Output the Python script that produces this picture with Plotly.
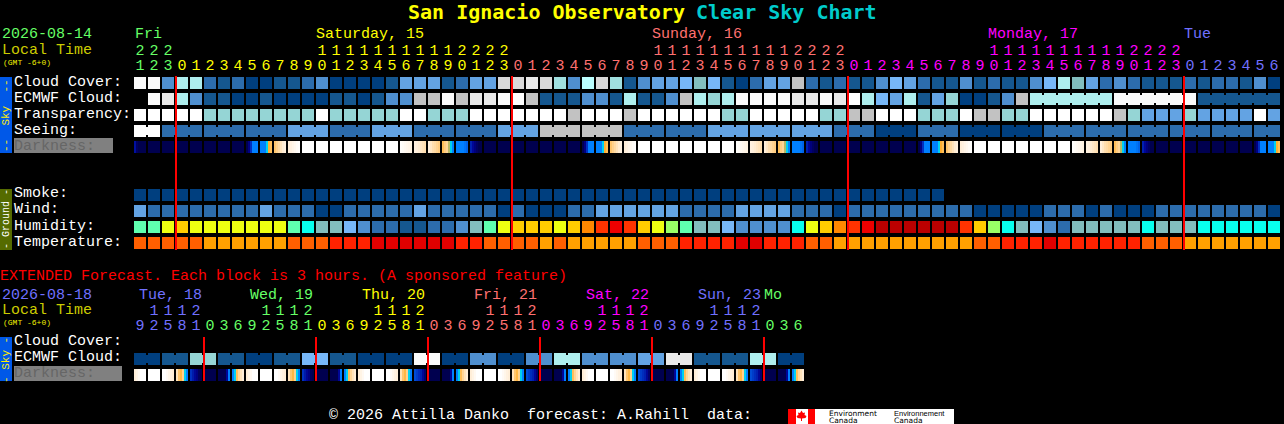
import plotly.graph_objects as go

W, H = 1284, 424
MONO = "Liberation Mono"
TITLE_FONT = "DejaVu Sans Mono"

# ---------- palette of block colours (index = level) ----------
palette = ["#003f7f", "#15578f", "#2c6cac", "#4f8fcf", "#63a3e3", "#77b7f7", "#82bebe", "#95d5d5",
           "#aeeeee", "#c2c2c2", "#e9e9e9", "#fafafa", "#ffffff", "#08ffee", "#5fffaf", "#99ff66",
           "#eeff11", "#ffcc00", "#ff8800", "#ff3300", "#ee0000", "#bb0000", "#ff5f00", "#ffa000",
           "#ff2200", "#e00000", "#d9d9d9", "#bbffff", "#a0e0e0"]

# ---------- main forecast, one block per hour ----------
hours = [21, 22, 23, 0, 1, 2, 3, 4, 5, 6, 7, 8, 9, 10, 11, 12, 13, 14, 15, 16, 17, 18, 19, 20, 21, 22, 23,
         0, 1, 2, 3, 4, 5, 6, 7, 8, 9, 10, 11, 12, 13, 14, 15, 16, 17, 18, 19, 20, 21, 22, 23,
         0, 1, 2, 3, 4, 5, 6, 7, 8, 9, 10, 11, 12, 13, 14, 15, 16, 17, 18, 19, 20, 21, 22, 23,
         0, 1, 2, 3, 4, 5, 6]
cloud = [11, 11, 3, 8, 8, 2, 1, 2, 0, 0, 1, 1, 2, 3, 0, 0, 0, 0, 1, 4, 4, 4, 1, 2, 4, 4, 26, 26, 10, 26, 28,
         3, 27, 26, 28, 1, 3, 4, 4, 5, 6, 5, 1, 0, 2, 4, 4, 9, 2, 1, 2, 1, 1, 3, 5, 4, 2, 1, 1, 3, 1, 2,
         1, 1, 3, 5, 8, 6, 4, 2, 3, 2, 1, 1, 1, 2, 1, 2, 2, 1, 3, 0]
ecmwf = [None, 11, 10, 8, 3, 1, 1, 0, 0, 1, 0, 0, 0, 0, 1, 1, 0, 1, 3, 3, 9, 9, 11, 9, 10, 10, 11, 12, 9, 1,
         1, 1, 3, 3, 1, 8, 1, 1, 3, 9, 8, 7, 8, 11, 11, 11, 11, 10, 10, 11, 10, 12, 8, 5, 4, 8, 1, 4, 7, 0, 0, 1, 3, 9,
         8, 8, 8, 8, 8, 8, 11, 11, 11, 11, 11, 11, 1, 1, 1, 1, 1, 1]
transparency = [12, 12, 12, 12, 12, 7, 7, 7, 7, 7, 7, 7, 7, 12, 7, 7, 7, 7, 7, 12, 12, 7, 7, 7, 12, 12, 12, 12,
                12, 12, 12, 9, 12, 12, 12, 9, 12, 12, 12, 12, 12, 12, 7, 7, 12, 12, 12, 12, 12, 7, 7, 9, 9,
                12, 12, 12, 7, 7, 7, 12, 9, 9, 7, 7, 12, 12, 12, 12, 12, 12, 9, 7, 4, 4, 4, 7, 4, 4, 4, 4, 12, 4]
seeing_by_group = [12, 2, 2, 2, 4, 2, 4, 2, 2, 4, 9, 9, 2, 2, 4, 4, 4, 2, 0, 2, 0, 0, 2, 2, 2, 2, 2, 2]
seeing_group_sizes = [2, 3, 3, 3, 3, 3, 3, 3, 3, 3, 3, 3, 3, 3, 3, 3, 3, 3, 3, 3, 3, 3, 3, 3, 3, 3, 3, 2]
ecmwf_joined_runs = [(64, 69), (70, 75), (76, 81)]
smoke = [0] * 58
wind = [4, 2, 2, 2, 2, 2, 2, 2, 2, 4, 2, 2, 2, 0, 0, 2, 2, 2, 2, 2, 4, 2, 2, 2, 2, 2, 0, 2, 0, 0, 0, 2, 2, 4, 4, 4,
        4, 4, 4, 2, 2, 2, 2, 4, 4, 4, 4, 2, 2, 2, 0, 2, 2, 2, 2, 2, 2, 2, 2, 2, 0, 0, 0, 0, 0, 2, 2, 2, 0, 2,
        0, 0, 0, 2, 2, 2, 2, 2, 2, 2, 2, 0]
humidity = [14, 14, 16, 17, 16, 16, 16, 16, 16, 16, 16, 14, 13, 6, 6, 5, 3, 2, 2, 1, 1, 2, 2, 3, 6, 14, 16, 17, 17,
            17, 16, 17, 18, 19, 20, 19, 17, 16, 15, 14, 6, 6, 5, 3, 3, 3, 3, 13, 16, 17, 18, 19, 20, 21, 21, 21,
            21, 21, 21, 19, 17, 15, 13, 6, 5, 3, 2, 6, 6, 6, 6, 6, 13, 6, 6, 6, 13, 13, 13, 13, 13, 13]
temperature = [22, 22, 22, 22, 22, 23, 23, 23, 23, 23, 23, 22, 22, 22, 24, 24, 24, 25, 25, 25, 25, 25, 25, 24, 24,
               22, 22, 22, 22, 23, 22, 23, 23, 23, 23, 23, 22, 22, 22, 24, 24, 24, 24, 25, 25, 24, 24, 24, 22, 22,
               23, 23, 23, 23, 23, 23, 23, 23, 23, 23, 22, 22, 24, 24, 24, 25, 24, 24, 24, 24, 24, 24, 22, 22, 22,
               23, 23, 23, 23, 23, 23, 23]

# darkness: one phase letter per block, each phase a 6-step brightness ramp inside the block
darkness_phases = {
    "N": [0, 0, 0, 0, 0, 0], "W": [1, 1, 1, 1, 1, 1],
    "a": [.15, .03, 0, 0, 0, 0], "b": [0, .08, .25, .45, .45, .45], "c": [.45, .45, .45, .55, .62, .66],
    "d": [.68, .72, .76, .8, .84, .87], "e": [.85, .88, .91, .94, .97, .99], "f": [.99, .97, .95, .93, .91, .89],
    "g": [.88, .86, .84, .82, .8, .78], "h": [.86, .82, .78, .76, .73, .7], "i": [.66, .7, .74, .6, .55, .45],
    "j": [.45, .45, .45, .45, .42, .38], "k": [.2, .12, .07, .03, 0, 0],
    "A": [.85, .9, .95, 1, 1, 1], "B": [1, 1, .96, .92, .88, .85], "C": [.8, .68, .64, .72, .55, .45],
    "D": [.25, .18, .12, .08, .02, 0], "G": [.32, .28, .24, .2, .12, .05], "E": [0, 0, 0, 0, .12, .45],
    "F": [.45, .55, .66, .74, .8, .85],
}
darkness_main = "aNNNNNNNbcdeWWWWWWWfghijkNNNNNNNbcdeWWWWWWWfghijkNNNNNNNbcdeWWWWWWWfghijkNNNNNNNbc"
darkness_stops = [0, .1, .25, .45, .55, .62, .7, .85, 1]
darkness_colors = ["#00004f", "#00008f", "#0030c0", "#0080ff", "#00d0f0", "#ffb030", "#ffcc80", "#ffeed8", "#ffffff"]

# main header
day_spans = [(3, "#66ff66"), (24, "#ffff00"), (24, "#ff7070"), (24, "#ff00ff"), (7, "#7070ff")]
day_labels = [("Fri", 135, "#66ff66"), ("Saturday, 15", 316, "#ffff00"), ("Sunday, 16", 652, "#ff7070"),
              ("Monday, 17", 988, "#ff00ff"), ("Tue", 1184, "#7070ff")]
sky_labels = [("Cloud Cover:", 82), ("ECMWF Cloud:", 98), ("Transparency:", 114), ("Seeing:", 130)]
ground_labels = [("Smoke:", 193), ("Wind:", 209), ("Humidity:", 226), ("Temperature:", 242)]

# ---------- extended forecast, one block per 3 hours ----------
ext_hours = [9, 12, 15, 18, 21, 0, 3, 6, 9, 12, 15, 18, 21, 0, 3, 6, 9, 12, 15, 18, 21, 0, 3, 6,
             9, 12, 15, 18, 21, 0, 3, 6, 9, 12, 15, 18, 21, 0, 3, 6, 9, 12, 15, 18, 21, 0, 3, 6]
ext_day_spans = [(5, "#7070ff"), (8, "#66ff66"), (8, "#ffff00"), (8, "#ff7070"), (8, "#ff00ff"), (8, "#7070ff"), (3, "#66ff66")]
ext_day_labels = [("Tue, 18", 139, "#7070ff"), ("Wed, 19", 250, "#66ff66"), ("Thu, 20", 362, "#ffff00"),
                  ("Fri, 21", 474, "#ff7070"), ("Sat, 22", 586, "#ff00ff"), ("Sun, 23", 698, "#7070ff"),
                  ("Mo", 764, "#66ff66")]
ext_ecmwf_by_pair = [0, 1, 7, 1, 0, 1, 5, 1, 0, 0, 11, 0, 3, 0, 3, 8, 3, 3, 4, 10, 1, 1, 8, 0]
ext_darkness = "AWBCDNEFAWBCDNEFAWBCGNEFAWBCGNEFAWBCGNEFAWBCGNEF"


# ---------- pixel <-> axis helpers: x axis is block index, y axis is row index ----------
def row(px):
    return (px - 83) / 16


def expand(spans):
    return [c for n, c in spans for _ in range(n)]


def steps(levels):
    n = len(levels)
    return [v for i, c in enumerate(levels) for v in ([i / n, c], [(i + 1) / n, c])]


fig = go.Figure()
common = dict(hoverinfo="skip", showscale=False)
discrete = dict(colorscale=steps(palette), zmin=-0.5, zmax=len(palette) - 0.5)
smooth_dark = dict(colorscale=[[s, c] for s, c in zip(darkness_stops, darkness_colors)], zmin=0, zmax=1)

n_cols = len(hours)
seeing = [v for v, n in zip(seeing_by_group, seeing_group_sizes) for _ in range(n)]
pad = lambda a: a + [None] * (n_cols - len(a))
grid = [cloud, ecmwf, transparency, seeing, [None] * n_cols, [None] * n_cols, [None] * n_cols,
        pad(smoke), wind, humidity, temperature]
fig.add_trace(go.Heatmap(x=list(range(n_cols)), y=list(range(len(grid))), z=grid, xgap=2, ygap=4, **discrete, **common))

ext_ecmwf = [v for v in ext_ecmwf_by_pair for _ in range(2)]
fig.add_trace(go.Heatmap(x=list(range(len(ext_ecmwf))), y=[row(359)], z=[ext_ecmwf], dy=1, xgap=2, ygap=4, **discrete, **common))


def darkness_trace(codes, px):
    z, edges = [], []
    for i, code in enumerate(codes):
        z += darkness_phases[code] + [None]
        edges += [i - 3 / 7 + k / 7 for k in range(7)]
    edges.append(len(codes) - 3 / 7)
    fig.add_trace(go.Heatmap(x=edges, y=[row(px) - 0.375, row(px) + 0.375], z=[z], **smooth_dark, **common))


darkness_trace(darkness_main, 147)
darkness_trace(ext_darkness, 375)

# connectors joining blocks that belong to one forecast step
links = []
c = 0
for n in seeing_group_sizes:
    links += [(c + k, 3, seeing[c + k]) for k in range(n - 1)]
    c += n
for a, b in ecmwf_joined_runs:
    links += [(k, 1, ecmwf[k]) for k in range(a, b)]
links += [(2 * i, row(359), v) for i, v in enumerate(ext_ecmwf_by_pair)]
for level in sorted({v for _, _, v in links}):
    xs, ys = [], []
    for k, r, v in links:
        if v == level:
            xs += [k + 0.4, k + 0.6, None]
            ys += [r, r, None]
    fig.add_trace(go.Scatter(x=xs, y=ys, mode="lines", line=dict(color=palette[level], width=8), hoverinfo="skip"))

# red midnight lines
xs, ys = [], []
for i, h in enumerate(hours):
    if h == 0:
        xs += [i - 0.43, i - 0.43, None]
        ys += [row(76), row(250), None]
fig.add_trace(go.Scatter(x=xs, y=ys, mode="lines", line=dict(color="#ff0000", width=2), hoverinfo="skip"))
xs, ys = [], []
for i, h in enumerate(ext_hours):
    if h == 0:
        xs += [i - 0.43, i - 0.43, None]
        ys += [row(337), row(381), None]
fig.add_trace(go.Scatter(x=xs, y=ys, mode="lines", line=dict(color="#ff0000", width=2), hoverinfo="skip"))


# hour digits on the block axis
def digits(hrs, colors, tens_px, ones_px):
    tf = dict(family=MONO, size=15, color=colors)
    fig.add_trace(go.Scatter(x=list(range(len(hrs))), y=[row(tens_px)] * len(hrs), mode="text",
                             text=[str(h // 10) if h >= 10 else "" for h in hrs], textfont=tf,
                             textposition="middle center", hoverinfo="skip"))
    fig.add_trace(go.Scatter(x=list(range(len(hrs))), y=[row(ones_px)] * len(hrs), mode="text",
                             text=[str(h % 10) for h in hrs], textfont=tf,
                             textposition="middle center", hoverinfo="skip"))


digits(hours, expand(day_spans), 51, 66)
digits(ext_hours, expand(ext_day_spans), 311, 326)

# ---------- text and decoration in page pixels ----------
annotations = []


def label(text, x, y, color="#ffffff", size=15, bold=False, family=MONO, angle=0, anchor="left"):
    annotations.append(dict(text=f"<b>{text}</b>" if bold else text, x=x / W, y=1 - y / H, xref="paper", yref="paper",
                            xanchor=anchor, yanchor="middle", showarrow=False, textangle=angle,
                            font=dict(family=family, size=size, color=color), borderpad=0, borderwidth=0))


label("San Ignacio Observatory", 408, 12, "#ffff00", 20, True, TITLE_FONT)
label("Clear Sky Chart", 696, 12, "#00cccc", 20, True, TITLE_FONT)
label("2026-08-14", 2, 35, "#66ff66")
label("Local Time", 2, 50, "#cccc00")
label("(GMT -6+0)", 3, 62, "#eeee00", 8)
for t, x, col in day_labels:
    label(t, x, 35, col)
for t, y in sky_labels + ground_labels:
    label(t, 14, y)
label("Darkness:", 14, 146, "#666666")
label("EXTENDED Forecast. Each block is 3 hours. (A sponsored feature)", 0, 276, "#ff0000")
label("2026-08-18", 2, 295, "#7070ff")
label("Local Time", 2, 310, "#cccc00")
label("(GMT -6+0)", 3, 322, "#eeee00", 8)
for t, x, col in ext_day_labels:
    label(t, x, 295, col)
label("Cloud Cover:", 14, 341)
label("ECMWF Cloud:", 14, 357)
label("Darkness:", 14, 373, "#666666")
label("\u00a9 2026 Attilla Danko\u00a0\u00a0forecast: A.Rahill\u00a0\u00a0data:", 329, 415)
label("--\u00a0\u00a0Sky\u00a0\u00a0--", 6, 116, "#ffee00", 11, angle=-90, anchor="center")
label("-\u00a0Ground\u00a0-", 6, 219, "#ffffff", 10, angle=-90, anchor="center")
label("-\u00a0Sky\u00a0-", 6, 360, "#ffee00", 11, angle=-90, anchor="center")
label("Environment", 829, 413, "#000000", 7.5, family="DejaVu Sans")
label("Canada", 829, 420.5, "#000000", 7.5, family="DejaVu Sans")
label("Environnement", 894, 413, "#000000", 7.5, family="Liberation Sans")
label("Canada", 894, 420.5, "#000000", 7.5, family="DejaVu Sans")


def rect(x0, y0, x1, y1, color):
    return dict(type="rect", xref="paper", yref="paper", x0=x0 / W, x1=x1 / W, y0=1 - y0 / H, y1=1 - y1 / H,
                fillcolor=color, line=dict(width=0), layer="below")


def poly(points, color):
    d = "M " + " L ".join(f"{x / W:.5f},{1 - y / H:.5f}" for x, y in points) + " Z"
    return dict(type="path", xref="paper", yref="paper", path=d, fillcolor=color, line=dict(width=0), layer="below")


shapes = [
    rect(0, 77, 12, 153, "#0058e8"), rect(0, 189, 12, 250, "#556b00"), rect(0, 337, 12, 381, "#0058e8"),
    rect(14, 138, 113, 153, "#808080"), rect(14, 366, 122, 381, "#808080"),
    rect(788, 409, 954, 424, "#ffffff"), rect(788, 409, 796, 424, "#ff0000"), rect(808, 409, 815, 424, "#ff0000"),
    poly([(801.5, 410.5), (803, 413), (805, 412.5), (804.5, 415), (806.5, 416), (805.5, 418), (802, 418.5),
          (802, 421), (801, 421), (801, 418.5), (797.5, 418), (796.5, 416), (798.5, 415), (798, 412.5), (800, 413)],
         "#ff0000"),
]

fig.update_layout(
    width=W, height=H, margin=dict(l=0, r=0, t=0, b=0), paper_bgcolor="#000000", plot_bgcolor="#000000",
    showlegend=False, annotations=annotations, shapes=shapes,
    xaxis=dict(range=[(0 - 140) / 14, (W - 140) / 14], visible=False, fixedrange=True),
    yaxis=dict(range=[row(H), row(0)], visible=False, fixedrange=True),
)
fig.write_html("out.html", config=dict(displayModeBar=False),
               post_script="document.body.style.margin='0';document.body.style.background='#000';document.body.style.overflow='hidden';")
